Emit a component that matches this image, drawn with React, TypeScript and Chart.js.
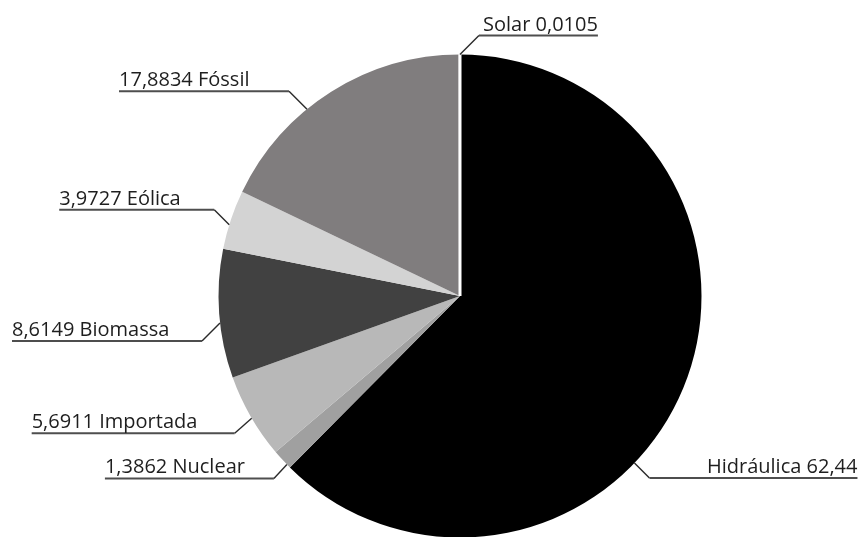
import React, { useEffect, useRef } from "react";
import { Chart, registerables } from "chart.js";

Chart.register(...registerables);

const categories = ["Hidráulica", "Nuclear", "Importada", "Biomassa", "Eólica", "Fóssil", "Solar"];
const values = [62.44, 1.3862, 5.6911, 8.6149, 3.9727, 17.8834, 0.0105];
const valueLabels = ["62,44", "1,3862", "5,6911", "8,6149", "3,9727", "17,8834", "0,0105"];
const colors = ["#000000", "#a0a0a0", "#b8b8b8", "#414141", "#d3d3d3", "#807d7e", "#ffffff"];

// label layout: anchor fraction within slice, elbow offset, underline length, side
const LABEL_LAYOUT = [
  { frac: 0.595, dx: 15, dy: 15, len: 208, side: "right", valueFirst: false },
  { frac: 0.2, dx: -13, dy: 14, len: 169, side: "left", valueFirst: true },
  { frac: 0.48, dx: -17, dy: 15, len: 203, side: "left", valueFirst: true },
  { frac: 0.43, dx: -18, dy: 18, len: 190, side: "left", valueFirst: true },
  { frac: 0.41, dx: -15, dy: -15, len: 155, side: "left", valueFirst: true },
  { frac: 0.39, dx: -18, dy: -18, len: 170, side: "left", valueFirst: true },
  { frac: 0.5, dx: 19, dy: -19, len: 119, side: "right", valueFirst: false },
];

const labelPlugin = {
  id: "leaderLabels",
  afterDatasetsDraw(chart: any) {
    const ctx = chart.ctx;
    const meta = chart.getDatasetMeta(0);
    ctx.save();
    ctx.font = '20px "Open Sans"';
    ctx.textBaseline = "alphabetic";
    meta.data.forEach((arc: any, i: number) => {
      const L = LABEL_LAYOUT[i];
      const p = arc.getProps(["x", "y", "startAngle", "endAngle", "outerRadius"], true);
      const a = p.startAngle + L.frac * (p.endAngle - p.startAngle);
      const ax = p.x + p.outerRadius * Math.cos(a);
      const ay = p.y + p.outerRadius * Math.sin(a);
      const ex = ax + L.dx;
      const ey = ay + L.dy;
      const endX = L.side === "left" ? ex - L.len : ex + L.len;
      ctx.strokeStyle = "#2a2a2a";
      ctx.lineWidth = 1.4;
      ctx.beginPath();
      ctx.moveTo(ax, ay);
      ctx.lineTo(ex, ey);
      ctx.stroke();
      ctx.strokeStyle = "#4e4e4e";
      ctx.lineWidth = 2;
      ctx.beginPath();
      ctx.moveTo(ex, ey);
      ctx.lineTo(endX, ey);
      ctx.stroke();
      const text = L.valueFirst
        ? valueLabels[i] + " " + categories[i]
        : categories[i] + " " + valueLabels[i];
      ctx.fillStyle = "#1e1e1e";
      ctx.textAlign = L.side === "left" ? "left" : "right";
      ctx.fillText(text, endX, ey - 5);
    });
    ctx.restore();
  },
};

export default function App() {
  const ref = useRef<HTMLCanvasElement>(null);
  useEffect(() => {
    if (!ref.current) return;
    const chart = new Chart(ref.current, {
      type: "pie",
      data: {
        labels: categories,
        datasets: [
          {
            data: values,
            backgroundColor: colors,
            borderColor: colors.map(() => "#ffffff"),
            borderWidth: values.map((_, i) => (i === categories.length - 1 ? 3 : 0)),
          },
        ],
      },
      options: {
        responsive: false,
        animation: false,
        devicePixelRatio: 1,
        layout: { padding: { top: 53, left: 217, right: 157, bottom: 21 } },
        plugins: { legend: { display: false }, tooltip: { enabled: false } },
      },
      plugins: [labelPlugin],
    });
    return () => chart.destroy();
  }, []);
  return (
    <div
      style={{
        position: "fixed",
        top: 0,
        left: 0,
        width: 860,
        height: 537,
        overflow: "hidden",
        background: "#ffffff",
      }}
    >
      <canvas ref={ref} width={860} height={560} style={{ display: "block" }} />
    </div>
  );
}
